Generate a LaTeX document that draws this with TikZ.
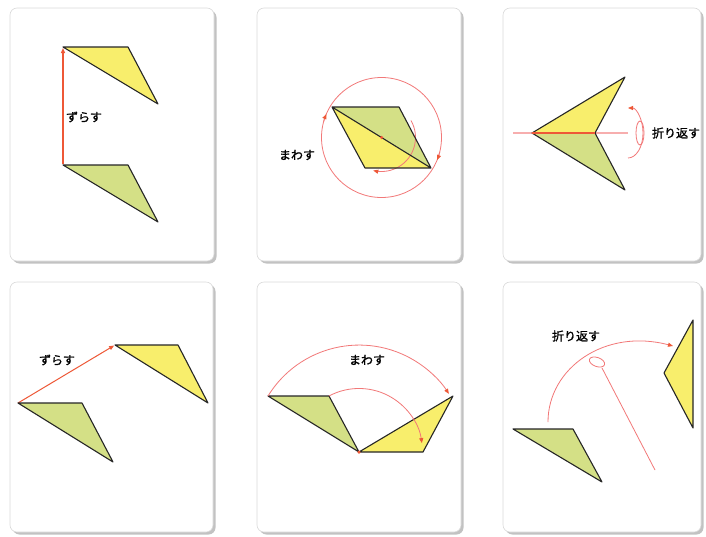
\documentclass[tikz,border=0pt]{standalone}
\usepackage{fontspec}
\newfontfamily\jpfont{Noto Sans CJK JP}[FakeBold=1.2]
\usetikzlibrary{arrows.meta,shadows}

\definecolor{triyellow}{RGB}{248,238,108}
\definecolor{trigreen}{RGB}{212,224,134}
\definecolor{movered}{RGB}{238,88,55}
\definecolor{guidepink}{RGB}{242,120,120}

\begin{document}
\begin{tikzpicture}[x=1pt,y=-1pt,
  card/.style={draw=black!15,fill=white,rounded corners=7pt,line width=0.6pt,
    drop shadow={shadow xshift=2.5pt,shadow yshift=-2.5pt,fill=black!40,opacity=0.6}},
  tri/.style={draw=black!85,line width=1.1pt,line join=round},
  move/.style={draw=movered,line width=1pt,-{Triangle[length=5pt,width=4pt]}},
  guide/.style={draw=guidepink,line width=0.8pt},
  turn/.style={guide,-{Triangle[length=5pt,width=4pt,color=movered]}},
  pivot/.style={circle,fill=movered,inner sep=0pt,minimum size=3.5pt},
  label/.style={font=\jpfont\fontsize{12}{12}\selectfont,inner sep=1pt}
]
\useasboundingbox (0,0) rectangle (706,536);

% cards
\draw[card] (10,8) rectangle (214,261);
\draw[card] (257,8) rectangle (461,261);
\draw[card] (503,8) rectangle (701,261);
\draw[card] (10,282) rectangle (213,532);
\draw[card] (257,282) rectangle (461,532);
\draw[card] (503,282) rectangle (701,532);

% panel 1: slide up
\coordinate (a0) at (63,165);
\coordinate (b0) at (128,165);
\coordinate (c0) at (158,222);
\coordinate (a1) at (63,47);
\coordinate (b1) at (128,47);
\coordinate (c1) at (158,104);

\filldraw[tri,fill=trigreen] (a0)--(b0)--(c0)--cycle;
\filldraw[tri,fill=triyellow] (a1)--(b1)--(c1)--cycle;
\draw[move,line width=1.1pt,shorten <=0.6pt,shorten >=1pt] (a0) -- (a1);
\node[label] (slideA) at (84,117) {ずらす};

% panel 2: rotate about the centre
\coordinate (ctr) at (381.5,137.5);
\coordinate (rTL) at (332,107);
\coordinate (rTR) at (399,107);
\coordinate (rBR) at (431,168);
\coordinate (rBL) at (365,168);

\draw[guide] (ctr) circle (60);
\fill[trigreen] (rTL)--(rTR)--(rBR)--cycle;
\fill[triyellow] (rTL)--(rBR)--(rBL)--cycle;
\draw[guide] ([shift={(-30:34)}]ctr) arc[start angle=-30,end angle=100,radius=34];
\draw[turn] ([shift={(100:34)}]ctr) arc[start angle=100,end angle=104,radius=34];
\draw[tri] (rTL)--(rTR)--(rBR)--(rBL)--cycle (rTL)--(rBR);
\draw[turn] ([shift={(195:60)}]ctr) arc[start angle=195,end angle=203,radius=60];
\draw[turn] ([shift={(14:60)}]ctr) arc[start angle=14,end angle=22,radius=60];
\node[pivot] (mid) at (ctr) {};
\node[label] (turnA) at (297,155) {まわす};

% panel 3: fold over the axis
\coordinate (tip) at (532,133);
\coordinate (top) at (625,77);
\coordinate (notch) at (595,133);
\coordinate (bot) at (625,190);
\coordinate (axisL) at (513,133);
\coordinate (axisR) at (628,133);

\draw[guide,draw=guidepink!60,line width=1.1pt] (axisL) -- (axisR);
\fill[triyellow] (tip)--(top)--(notch)--cycle;
\fill[trigreen] (tip)--(notch)--(bot)--cycle;
\draw[tri] (tip)--(top)--(notch)--(bot)--cycle;
\draw[draw=movered,line width=1.3pt] (tip) -- (notch);
\draw[guide] (640,133) ellipse[x radius=4,y radius=12];
\draw[turn] (628,158) arc[start angle=90,end angle=-90,x radius=15,y radius=25];
\node[label] (foldA) at (676,133) {折り返す};

% panel 4: slide along a slanted arrow
\coordinate (p0) at (18,403);
\coordinate (q0) at (82,403);
\coordinate (r0) at (113,462);
\coordinate (p1) at (115,345);
\coordinate (q1) at (178,345);
\coordinate (r1) at (208,403);

\draw[move,shorten >=1pt] (p0) -- (p1);
\filldraw[tri,fill=trigreen] (p0)--(q0)--(r0)--cycle;
\filldraw[tri,fill=triyellow] (p1)--(q1)--(r1)--cycle;
\node[label] (slideB) at (57,360) {ずらす};

% panel 5: rotate about a vertex
\coordinate (hub) at (359,452);
\coordinate (g1) at (268,396);
\coordinate (g2) at (329,396);
\coordinate (y1) at (423,452);
\coordinate (y2) at (453,396);

\filldraw[tri,fill=trigreen] (g1)--(g2)--(hub)--cycle;
\filldraw[tri,fill=triyellow] (hub)--(y1)--(y2)--cycle;
\draw[turn] (g1) arc[start angle=211.6,end angle=327,radius=107];
\draw[turn] (g2) arc[start angle=241.8,end angle=352,radius=63.5];
\node[pivot] (hubdot) at (hub) {};
\node[label] (turnB) at (367,360) {まわす};

% panel 6: fold over a slanted line
\coordinate (u0) at (513,429);
\coordinate (v0) at (573,429);
\coordinate (w0) at (602,482);
\coordinate (u1) at (693,320);
\coordinate (v1) at (664,373);
\coordinate (w1) at (693,428);
\coordinate (lineA) at (602,368);
\coordinate (lineB) at (655,470);
\coordinate (swing) at (548,422);
\coordinate (land) at (673,346);

\draw[guide] (lineA) -- (lineB);
\draw[guide] (597,362) ellipse[x radius=8,y radius=4.5,rotate=-20];
\draw[turn] (swing) .. controls (548,368) and (605,328) .. (land);
\filldraw[tri,fill=trigreen] (u0)--(v0)--(w0)--cycle;
\filldraw[tri,fill=triyellow] (u1)--(v1)--(w1)--cycle;
\node[label] (foldB) at (576,336) {折り返す};

\end{tikzpicture}
\end{document}
